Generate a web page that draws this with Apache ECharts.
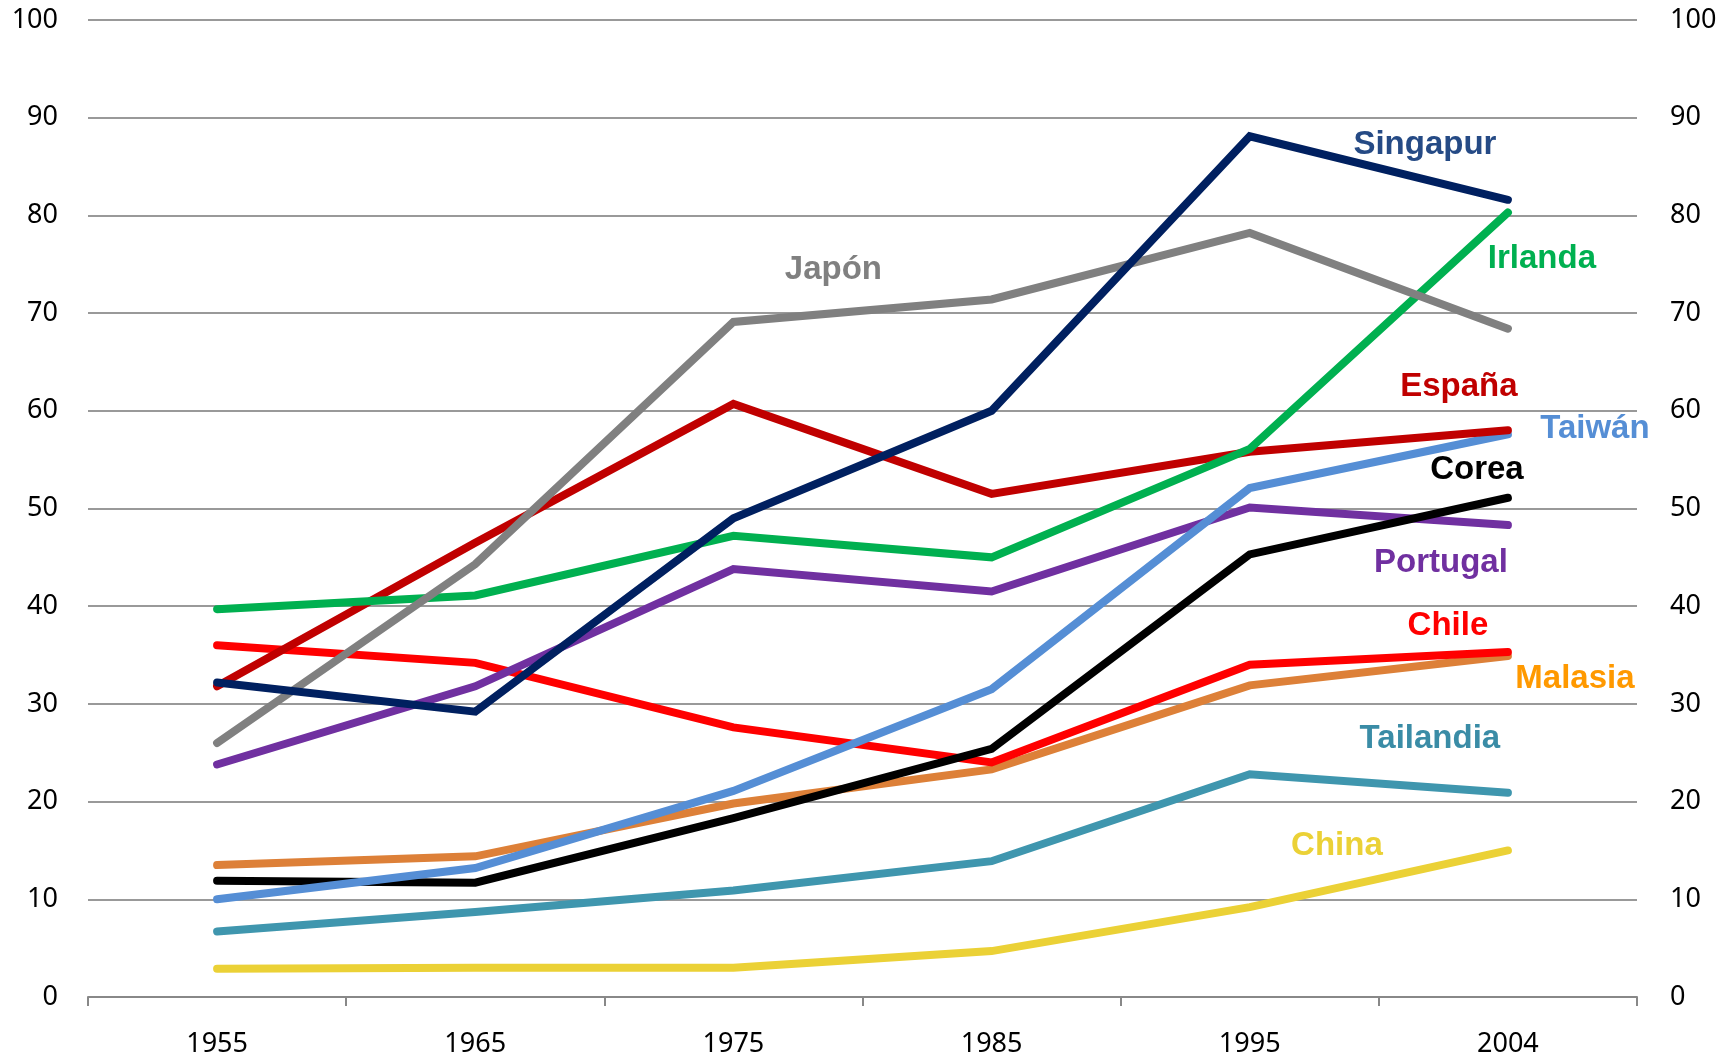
<!DOCTYPE html>
<html lang="es">
<head>
    <meta charset="UTF-8">
    <title>Serie por país</title>
    <style>
        html, body { margin: 0; padding: 0; background: #fff; }
        #main { width: 1727px; height: 1058px; }
    </style>
</head>
<body>
<div id="main"></div>
<script src="https://cdn.jsdelivr.net/npm/echarts@6/dist/echarts.min.js"></script>
<script>
    var years = ['1955', '1965', '1975', '1985', '1995', '2004'];
    var yTicks = [0, 10, 20, 30, 40, 50, 60, 70, 80, 90, 100];

    var singapur  = [32.2, 29.2, 49.0, 60.0, 88.1, 81.6];
    var japon     = [26.0, 44.3, 69.1, 71.4, 78.2, 68.4];
    var irlanda   = [39.7, 41.1, 47.2, 45.0, 56.1, 80.3];
    var espana    = [31.8, 46.5, 60.7, 51.5, 55.8, 58.0];
    var taiwan    = [10.0, 13.2, 21.1, 31.5, 52.1, 57.6];
    var corea     = [11.9, 11.7, 18.3, 25.4, 45.3, 51.1];
    var portugal  = [23.8, 31.8, 43.8, 41.5, 50.1, 48.3];
    var chile     = [36.0, 34.2, 27.6, 24.0, 34.0, 35.3];
    var malasia   = [13.5, 14.4, 19.8, 23.3, 31.9, 34.9];
    var tailandia = [6.7, 8.7, 10.9, 13.9, 22.8, 20.9];
    var china     = [2.9, 3.0, 3.0, 4.7, 9.2, 15.0];

    // series: name, data, line colour, label colour, label anchor [category, value], pixel shift
    var seriesDefs = [
        ['China',     china,     '#EBD136', '#EBD136', ['2004', 15.5], -171],
        ['Tailandia', tailandia, '#3F96AE', '#3A8CA6', ['2004', 26.4], -78],
        ['Malasia',   malasia,   '#DD8038', '#FF9900', ['2004', 32.6], 67],
        ['Chile',     chile,     '#FF0000', '#FF0000', ['2004', 38.0], -60],
        ['Portugal',  portugal,  '#7030A0', '#7030A0', ['2004', 44.4], -67],
        ['Corea',     corea,     '#000000', '#000000', ['2004', 54.0], -31],
        ['Taiwán',    taiwan,    '#558ED5', '#558ED5', ['2004', 58.1], 87],
        ['España',    espana,    '#C00000', '#C00000', ['2004', 62.4], -49],
        ['Irlanda',   irlanda,   '#00B050', '#00B050', ['2004', 75.5], 34],
        ['Japón',     japon,     '#808080', '#808080', ['1975', 74.4], 100],
        ['Singapur',  singapur,  '#002060', '#254A85', ['2004', 87.2], -83]
    ];

    var series = [];
    for (var i = 0; i < seriesDefs.length; i++) {
        var d = seriesDefs[i];
        series.push({
            name: d[0],
            type: 'line',
            data: d[1],
            symbol: 'none',
            silent: true,
            lineStyle: {color: d[2], width: 8, cap: 'round', join: 'miter'},
            itemStyle: {color: d[2]},
            markPoint: {
                symbol: 'circle',
                symbolSize: 0,
                silent: true,
                label: {
                    show: true,
                    position: 'inside',
                    offset: [d[5], 0],
                    formatter: d[0],
                    color: d[3],
                    fontFamily: 'Liberation Sans, Arial, sans-serif',
                    fontWeight: 'bold',
                    fontSize: 33
                },
                data: [{coord: d[4]}]
            }
        });
    }

    var axisFont = {
        fontFamily: 'Noto Sans, sans-serif',
        fontSize: 27,
        color: '#000'
    };

    var myChart = echarts.init(document.getElementById('main'));
    var option = {
        animation: false,
        grid: {left: 88, right: 90, top: 20, bottom: 59},
        xAxis: {
            type: 'category',
            data: years,
            boundaryGap: true,
            axisLine: {lineStyle: {color: '#888', width: 2}},
            axisTick: {show: true, length: 9, lineStyle: {color: '#888', width: 2}},
            axisLabel: Object.assign({margin: 34}, axisFont)
        },
        yAxis: [
            {
                type: 'value',
                min: yTicks[0],
                max: yTicks[yTicks.length - 1],
                interval: 10,
                axisLine: {show: false},
                axisTick: {show: false},
                splitLine: {lineStyle: {color: '#999', width: 2}},
                axisLabel: Object.assign({margin: 30}, axisFont)
            },
            {
                type: 'value',
                position: 'right',
                min: yTicks[0],
                max: yTicks[yTicks.length - 1],
                interval: 10,
                axisLine: {show: false},
                axisTick: {show: false},
                splitLine: {show: false},
                axisLabel: Object.assign({margin: 33}, axisFont)
            }
        ],
        series: series
    };
    myChart.setOption(option);
</script>
</body>
</html>
